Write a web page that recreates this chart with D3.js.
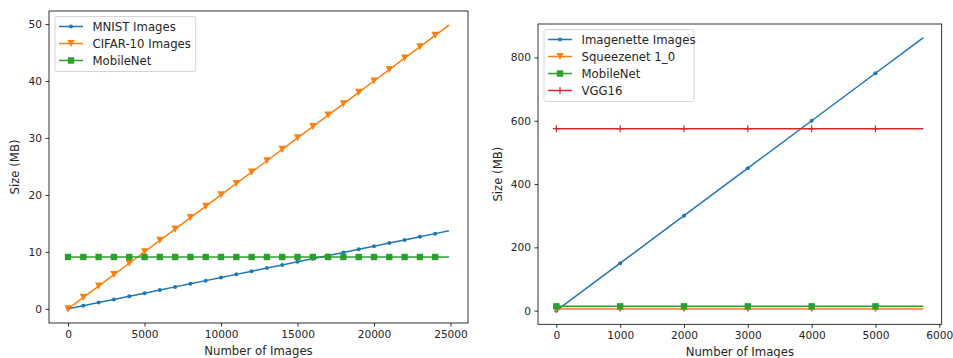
<!DOCTYPE html>
<html lang="en">
<head>
  <meta charset="UTF-8">
  <title>Dataset vs Model Size</title>
  <style>
    body { margin: 0; background: white; }
    svg text { font-family: "DejaVu Sans", sans-serif; fill: #262626; }
  </style>
  <script src="https://cdn.jsdelivr.net/npm/d3@7"></script>
</head>
<body>
<svg width="953" height="358"></svg>
<script>
// left panel data (markers every 1000 images, line runs to 24900)
var leftImages = [0, 1000, 2000, 3000, 4000, 5000, 6000, 7000, 8000, 9000, 10000, 11000, 12000,
  13000, 14000, 15000, 16000, 17000, 18000, 19000, 20000, 21000, 22000, 23000, 24000, 24900];
var mnistSize = [0, 0.55, 1.1, 1.65, 2.2, 2.75, 3.3, 3.85, 4.4, 4.95, 5.5, 6.05, 6.6,
  7.15, 7.7, 8.25, 8.8, 9.35, 9.9, 10.45, 11.0, 11.55, 12.1, 12.65, 13.2, 13.7];
var cifarSize = [0, 2, 4, 6, 8, 10, 12, 14, 16, 18, 20, 22, 24,
  26, 28, 30, 32, 34, 36, 38, 40, 42, 44, 46, 48, 49.8];
var mobileNetLeft = [9.1, 9.1, 9.1, 9.1, 9.1, 9.1, 9.1, 9.1, 9.1, 9.1, 9.1, 9.1, 9.1,
  9.1, 9.1, 9.1, 9.1, 9.1, 9.1, 9.1, 9.1, 9.1, 9.1, 9.1, 9.1, 9.1];
var leftXTicks = [0, 5000, 10000, 15000, 20000, 25000];
var leftYTicks = [0, 10, 20, 30, 40, 50];

// right panel data
var rightImages = [0, 1000, 2000, 3000, 4000, 5000, 5750];
var imagenetteSize = [0, 150, 300, 450, 600, 750, 862.5];
var squeezenetSize = [5, 5, 5, 5, 5, 5, 5];
var mobileNetRight = [13.6, 13.6, 13.6, 13.6, 13.6, 13.6, 13.6];
var vggSize = [575, 575, 575, 575, 575, 575, 575];
var rightXTicks = [0, 1000, 2000, 3000, 4000, 5000, 6000];
var rightYTicks = [0, 200, 400, 600, 800];

var blue = "#1f77b4", orange = "#ff7f0e", green = "#2ca02c", red = "#d62728";
var fs = 11.7, tickFs = 10.6;

var panels = [
  { box: {x0: 49, x1: 468, y0: 11, y1: 323}, xs: leftImages, xTicks: leftXTicks, yTicks: leftYTicks,
    labelX: 15,
    series: [
      {name: "MNIST Images", ys: mnistSize, color: blue, marker: "dot"},
      {name: "CIFAR-10 Images", ys: cifarSize, color: orange, marker: "tri"},
      {name: "MobileNet", ys: mobileNetLeft, color: green, marker: "square"}
    ], legendW: 140.7 },
  { box: {x0: 538, x1: 941.7, y0: 24, y1: 324.3}, xs: rightImages, xTicks: rightXTicks, yTicks: rightYTicks,
    labelX: 498,
    series: [
      {name: "Imagenette Images", ys: imagenetteSize, color: blue, marker: "dot"},
      {name: "Squeezenet 1_0", ys: squeezenetSize, color: orange, marker: "tri"},
      {name: "MobileNet", ys: mobileNetRight, color: green, marker: "square"},
      {name: "VGG16", ys: vggSize, color: red, marker: "plus"}
    ], legendW: 150 }
];

var svg = d3.select("svg");

function pad(ext) {
  var m = (ext[1] - ext[0]) * 0.05;
  return [ext[0] - m, ext[1] + m];
}

function drawMarker(g, type, x, y, color) {
  if (type === "dot") {
    g.append("circle").attr("cx", x).attr("cy", y).attr("r", 2).attr("fill", color);
  } else if (type === "tri") {
    var s = 3.6;
    g.append("path").attr("d", "M" + (x - s) + "," + (y - s) + "L" + (x + s) + "," + (y - s) + "L" + x + "," + (y + s) + "Z")
      .attr("fill", color);
  } else if (type === "square") {
    g.append("rect").attr("x", x - 3.2).attr("y", y - 3.2).attr("width", 6.4).attr("height", 6.4).attr("fill", color);
  } else if (type === "plus") {
    g.append("path").attr("d", "M" + (x - 3.5) + "," + y + "H" + (x + 3.5) + "M" + x + "," + (y - 3.5) + "V" + (y + 3.5))
      .attr("stroke", color).attr("stroke-width", 1.2);
  }
}

panels.forEach(function(p) {
  var b = p.box;
  var allY = [];
  p.series.forEach(function(s) { allY = allY.concat(s.ys); });
  var x = d3.scaleLinear().domain(pad(d3.extent(p.xs))).range([b.x0, b.x1]);
  var y = d3.scaleLinear().domain(pad(d3.extent(allY))).range([b.y1, b.y0]);

  var g = svg.append("g");

  // series
  p.series.forEach(function(s) {
    var line = d3.line().x(function(d, i) { return x(p.xs[i]); }).y(function(d) { return y(d); });
    g.append("path").datum(s.ys).attr("d", line)
      .attr("fill", "none").attr("stroke", s.color).attr("stroke-width", 1.5);
    var mg = g.append("g");
    s.ys.forEach(function(v, i) {
      if (i < s.ys.length - 1) drawMarker(mg, s.marker, x(p.xs[i]), y(v), s.color);
    });
  });

  // axes
  var xAxis = d3.axisBottom(x).tickValues(p.xTicks).tickFormat(d3.format("d")).tickSize(3.5).tickPadding(3.5);
  var yAxis = d3.axisLeft(y).tickValues(p.yTicks).tickFormat(d3.format("d")).tickSize(3.5).tickPadding(3.5);
  var gx = g.append("g").attr("transform", "translate(0," + b.y1 + ")").call(xAxis);
  var gy = g.append("g").attr("transform", "translate(" + b.x0 + ",0)").call(yAxis);
  [gx, gy].forEach(function(a) {
    a.select(".domain").remove();
    a.selectAll("line").attr("stroke", "#000").attr("stroke-width", 0.8);
    a.selectAll("text").attr("font-size", tickFs).attr("font-family", "DejaVu Sans").attr("fill", "#262626");
  });

  // frame
  g.append("rect").attr("x", b.x0).attr("y", b.y0).attr("width", b.x1 - b.x0).attr("height", b.y1 - b.y0)
    .attr("fill", "none").attr("stroke", "#000").attr("stroke-width", 0.8);

  // axis labels
  g.append("text").attr("x", (b.x0 + b.x1) / 2).attr("y", b.y1 + 31.5)
    .attr("text-anchor", "middle").attr("font-size", fs).text("Number of Images");
  g.append("text").attr("transform", "translate(" + p.labelX + "," + ((b.y0 + b.y1) / 2) + ") rotate(-90)")
    .attr("text-anchor", "middle").attr("dy", "0.35em").attr("font-size", fs).text("Size (MB)");

  // legend
  var lx = b.x0 + 6, ly = b.y0 + 5.5, rowH = 17;
  var lg = g.append("g");
  lg.append("rect").attr("x", lx).attr("y", ly).attr("width", p.legendW)
    .attr("height", p.series.length * rowH + 4).attr("rx", 2)
    .attr("fill", "white").attr("fill-opacity", 0.8).attr("stroke", "#cccccc").attr("stroke-width", 0.8);
  p.series.forEach(function(s, i) {
    var cy = ly + 10 + i * rowH;
    lg.append("line").attr("x1", lx + 4).attr("x2", lx + 28).attr("y1", cy).attr("y2", cy)
      .attr("stroke", s.color).attr("stroke-width", 1.5);
    drawMarker(lg, s.marker, lx + 16, cy, s.color);
    lg.append("text").attr("x", lx + 37.5).attr("y", cy).attr("dy", "0.35em")
      .attr("font-size", fs).text(s.name);
  });
});
</script>
</body>
</html>
